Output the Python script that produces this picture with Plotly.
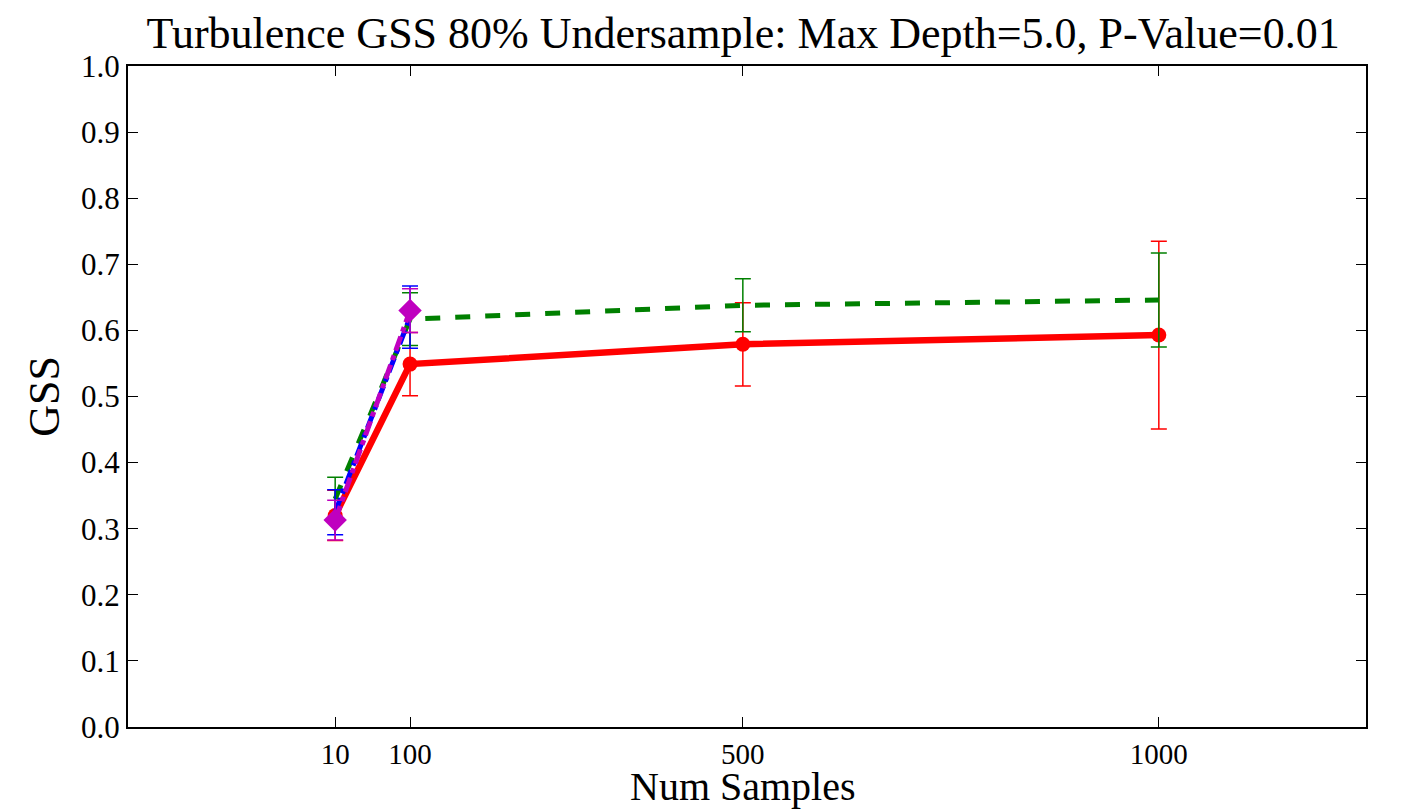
import plotly.graph_objects as go

x_all = [10, 100, 500, 1000]
x_small = [10, 100]

red_y = [0.320, 0.549, 0.579, 0.593]
red_err = [0.038, 0.048, 0.063, 0.142]

green_y = [0.345, 0.617, 0.638, 0.646]
green_err = [0.033, 0.040, 0.040, 0.071]

blue_y = [0.325, 0.620]
blue_err = [0.034, 0.047]

magenta_y = [0.313, 0.630]
magenta_err = [0.030, 0.033]

xticks = [10, 100, 500, 1000]
yticks = [0.0, 0.1, 0.2, 0.3, 0.4, 0.5, 0.6, 0.7, 0.8, 0.9, 1.0]

serif = "Liberation Serif, Times New Roman, serif"

fig = go.Figure()

def add(x, y, err, color, dash, width, marker):
    fig.add_trace(go.Scatter(
        x=x, y=y, mode="lines+markers" if marker else "lines",
        line=dict(color=color, width=width, dash=dash),
        marker=marker if marker else None,
        error_y=dict(type="data", array=err, visible=True, color=color,
                     thickness=1.5, width=8),
        showlegend=False,
    ))

add(x_all, red_y, red_err, "#ff0000", "solid", 6.5,
    dict(symbol="circle", size=15, color="#ff0000"))
add(x_all, green_y, green_err, "#008000", "dash", 5, None)
add(x_small, blue_y, blue_err, "#0000ff", "dashdot", 5, None)
add(x_small, magenta_y, magenta_err, "#bf00bf", "dashdot", 5,
    dict(symbol="diamond", size=18, color="#bf00bf"))

axis_common = dict(
    showgrid=False, zeroline=False, showline=True, linecolor="black",
    linewidth=2, mirror="allticks", ticks="inside", ticklen=10,
    tickcolor="black", tickwidth=1,
)

fig.update_layout(
    width=1411, height=801,
    paper_bgcolor="white", plot_bgcolor="white",
    margin=dict(l=120, r=53, t=58, b=82),
    title=dict(text="Turbulence GSS 80% Undersample: Max Depth=5.0, P-Value=0.01",
               font=dict(family=serif, size=44, color="black"),
               x=0.521, xanchor="center", y=0.9688, yanchor="middle"),
    xaxis=dict(range=[-239, 1249], tickmode="array", tickvals=xticks,
               ticktext=[str(v) for v in xticks],
               tickfont=dict(family=serif, size=29, color="black"),
               **axis_common),
    yaxis=dict(range=[0, 1], tickmode="array", tickvals=yticks,
               ticktext=[f"{v:.1f}" for v in yticks],
               tickfont=dict(family=serif, size=31, color="black"),
               title=dict(text="GSS", font=dict(family=serif, size=44, color="black"),
                          standoff=8),
               **axis_common),
    annotations=[dict(text="Num Samples", xref="paper", yref="paper",
                      x=0.497, y=-0.0905, xanchor="center", yanchor="middle",
                      showarrow=False,
                      font=dict(family=serif, size=40, color="black"))],
)

fig.write_html("out.html")
